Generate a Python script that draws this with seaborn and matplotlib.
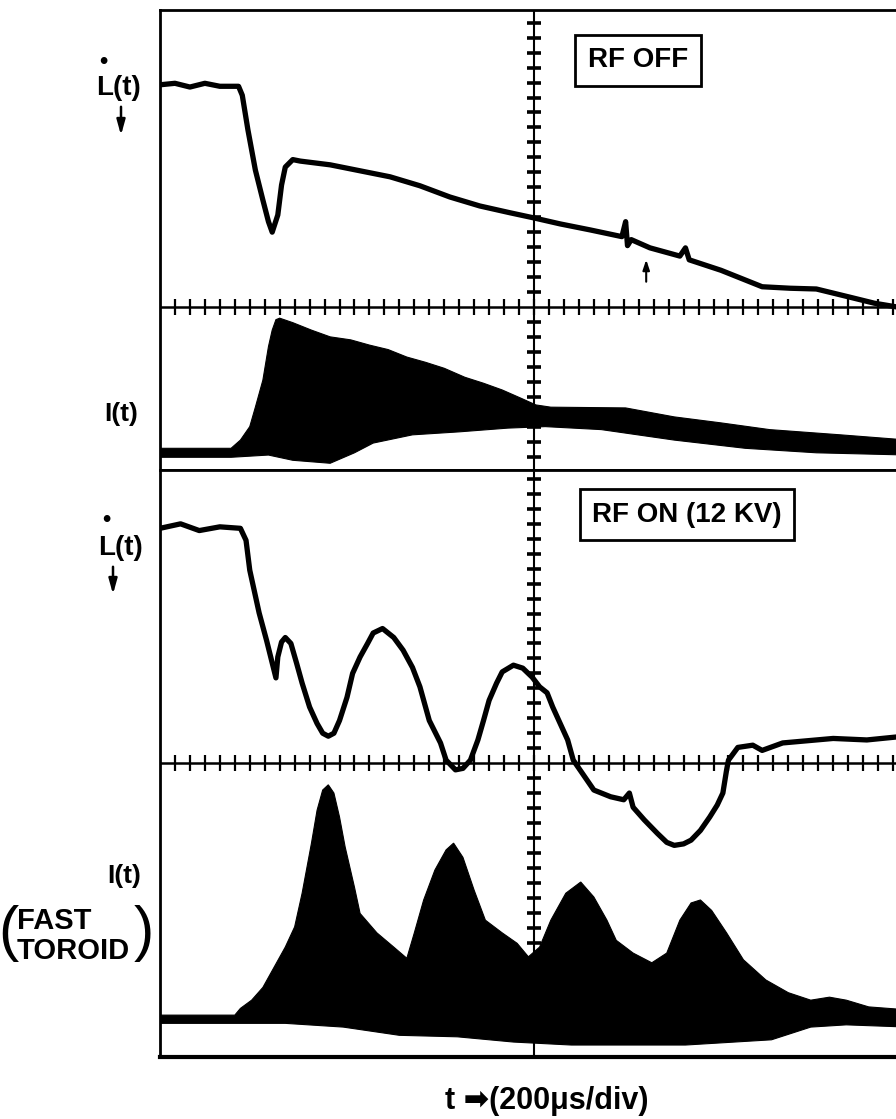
import matplotlib
matplotlib.use('Agg')
import matplotlib.pyplot as plt
import numpy as np
import seaborn as sns

# time in microseconds (200 us/div), amplitude in scope divisions

# RF OFF - L-dot trace
off_l_t = [0, 40, 80, 120, 160, 210, 220, 235, 255, 275, 290, 300, 315, 325, 335,
           355, 375, 455, 535, 615, 695, 775, 855, 935, 1000, 1070, 1150, 1235, 1245,
           1250, 1260, 1310, 1390, 1405, 1415, 1500, 1610, 1685, 1755, 1845, 1910, 1970, 2000]
off_l_v = [2.97, 2.99, 2.94, 2.99, 2.95, 2.95, 2.83, 2.37, 1.83, 1.43, 1.14, 1.00, 1.23, 1.63, 1.87,
           1.97, 1.95, 1.90, 1.82, 1.74, 1.62, 1.47, 1.35, 1.26, 1.19, 1.11, 1.03, 0.94, 1.14,
           0.82, 0.90, 0.79, 0.68, 0.79, 0.63, 0.49, 0.27, 0.25, 0.24, 0.13, 0.05, 0.0, -0.03]

# RF OFF - I(t) envelope
off_i_up_t = [0, 190, 215, 240, 255, 275, 290, 300, 310, 320, 355, 405, 455, 510, 560, 610,
              660, 710, 760, 815, 865, 915, 965, 1005, 1045, 1245, 1375, 1500, 1630, 1820, 2000]
off_i_up_v = [-1.89, -1.89, -1.78, -1.60, -1.34, -0.98, -0.53, -0.31, -0.17, -0.15, -0.21, -0.31,
              -0.40, -0.44, -0.51, -0.57, -0.67, -0.74, -0.82, -0.94, -1.02, -1.11, -1.22, -1.31,
              -1.34, -1.35, -1.47, -1.55, -1.64, -1.71, -1.78]
off_i_lo_t = [0, 190, 290, 355, 455, 520, 570, 675, 800, 930, 1030, 1180, 1375, 1565, 1755, 2000]
off_i_lo_v = [-2.01, -2.01, -1.98, -2.05, -2.09, -1.95, -1.82, -1.71, -1.67, -1.62, -1.60, -1.64,
              -1.78, -1.89, -1.95, -1.98]

# RF ON (12 KV) - L-dot trace
on_l_t = [0, 55, 105, 160, 215, 230, 240, 265, 285, 310, 315, 325, 335, 350, 365, 380, 400,
          420, 435, 450, 465, 480, 500, 515, 535, 555, 570, 595, 625, 650, 675, 695, 720, 750,
          765, 790, 810, 830, 850, 865, 880, 900, 915, 945, 970, 995, 1015, 1035, 1050, 1070,
          1090, 1105, 1160, 1205, 1240, 1255, 1265, 1295, 1330, 1355, 1375, 1400, 1420, 1445,
          1470, 1490, 1505, 1515, 1520, 1545, 1585, 1610, 1665, 1800, 1890, 1970, 2000]
on_l_v = [3.14, 3.20, 3.11, 3.16, 3.14, 2.98, 2.58, 2.01, 1.64, 1.14, 1.42, 1.62, 1.68, 1.60,
          1.34, 1.07, 0.75, 0.53, 0.40, 0.36, 0.40, 0.57, 0.88, 1.20, 1.42, 1.60, 1.74, 1.80,
          1.68, 1.51, 1.28, 1.02, 0.57, 0.27, 0.04, -0.09, -0.07, 0.04, 0.31, 0.57, 0.84, 1.07,
          1.22, 1.31, 1.27, 1.15, 1.02, 0.94, 0.75, 0.53, 0.31, 0.04, -0.36, -0.45, -0.49, -0.40,
          -0.59, -0.76, -0.94, -1.06, -1.10, -1.08, -1.03, -0.90, -0.72, -0.56, -0.40, -0.09,
          0.04, 0.21, 0.24, 0.17, 0.27, 0.33, 0.31, 0.35, 0.36]

# RF ON (12 KV) - I(t) fast toroid envelope
on_i_up_t = [0, 200, 215, 245, 275, 305, 335, 360, 380, 405, 420, 435, 450, 465, 480, 495,
             520, 535, 580, 625, 660, 680, 705, 735, 765, 785, 810, 840, 870, 915, 955, 985,
             1015, 1045, 1085, 1125, 1160, 1195, 1220, 1265, 1315, 1355, 1390, 1420, 1445,
             1475, 1515, 1560, 1620, 1680, 1740, 1790, 1835, 1895, 2000]
on_i_up_v = [-3.37, -3.37, -3.28, -3.17, -3.00, -2.73, -2.46, -2.19, -1.74, -1.07, -0.63, -0.36,
             -0.29, -0.40, -0.72, -1.12, -1.66, -2.01, -2.27, -2.46, -2.61, -2.27, -1.83, -1.43,
             -1.16, -1.07, -1.26, -1.70, -2.10, -2.27, -2.41, -2.59, -2.46, -2.10, -1.74, -1.59,
             -1.79, -2.10, -2.37, -2.54, -2.67, -2.54, -2.10, -1.87, -1.83, -1.97, -2.27, -2.63,
             -2.90, -3.07, -3.17, -3.13, -3.17, -3.26, -3.30]
on_i_lo_t = [0, 200, 335, 490, 640, 795, 945, 1100, 1405, 1635, 1740, 1835, 2000]
on_i_lo_v = [-3.48, -3.48, -3.48, -3.53, -3.64, -3.66, -3.73, -3.77, -3.77, -3.70, -3.53, -3.50, -3.53]

panel_titles = ['RF OFF', 'RF ON (12 KV)']
x_label = 't \u27a1(200\u03bcs/div)'

sns.set_style('white')
plt.rcParams['font.family'] = ['Liberation Sans', 'DejaVu Sans']
plt.rcParams['text.color'] = 'k'

W, H = 896, 1119
fig = plt.figure(figsize=(W / 100, H / 100), dpi=100)


def fx(px):
    return px / W


def fy(py):
    return 1 - py / H


# right edge of the scope screen is cut off by the scan
ax_top = fig.add_axes([fx(160), fy(470), (908 - 160) / W, (470 - 10) / H])
ax_bot = fig.add_axes([fx(160), fy(1057), (908 - 160) / W, (1057 - 470) / H])


def graticule(ax, up, down):
    ax.axhline(0, color='k', lw=1.8, zorder=1)
    ax.axvline(1000, color='k', lw=1.5, zorder=1)
    tx = np.arange(40, 2000, 40)
    ax.plot(tx, np.zeros(len(tx)), ls='none', marker='|', ms=11, mew=1.6, color='k', zorder=1)
    ty = np.r_[np.arange(0.2, up, 0.2), -np.arange(0.2, down, 0.2)]
    ax.plot(np.full(len(ty), 1000), ty, ls='none', marker='_', ms=10, mew=2.6, color='k', zorder=1)


def style(ax, ylim, bottom_lw):
    ax.set_xlim(0, 2000)
    ax.set_ylim(*ylim)
    ax.set_xticks([])
    ax.set_yticks([])
    ax.set_xlabel('')
    ax.set_ylabel('')
    for side in ['top', 'left']:
        ax.spines[side].set_linewidth(2.0)
        ax.spines[side].set_color('k')
    ax.spines['bottom'].set_linewidth(bottom_lw)
    ax.spines['bottom'].set_color('k')
    ax.spines['right'].set_visible(False)


# top panel: RF OFF
graticule(ax_top, 3.9, 2.1)
ax_top.fill(np.r_[off_i_up_t, off_i_lo_t[::-1]], np.r_[off_i_up_v, off_i_lo_v[::-1]],
            color='k', lw=0.8, zorder=2)
sns.lineplot(x=off_l_t, y=off_l_v, ax=ax_top, color='k', lw=3.8, sort=False,
             estimator=None, zorder=3)
ax_top.annotate('', xy=(1300, 0.67), xytext=(1300, 0.30),
                arrowprops=dict(arrowstyle='-|>,head_length=0.6,head_width=0.2',
                                lw=1.5, color='k'))
ax_top.text(1278, 3.30, panel_titles[0], ha='center', va='center', fontsize=20,
            fontweight='bold', color='k',
            bbox=dict(boxstyle='square,pad=0.45', fc='white', ec='k', lw=2))
style(ax_top, (-2.18, 3.97), 2.0)

# bottom panel: RF ON
graticule(ax_bot, 3.9, 2.7)
ax_bot.fill(np.r_[on_i_up_t, on_i_lo_t[::-1]], np.r_[on_i_up_v, on_i_lo_v[::-1]],
            color='k', lw=0.8, zorder=2)
sns.lineplot(x=on_l_t, y=on_l_v, ax=ax_bot, color='k', lw=3.8, sort=False,
             estimator=None, zorder=3)
ax_bot.text(1409, 3.32, panel_titles[1], ha='center', va='center', fontsize=20,
            fontweight='bold', color='k',
            bbox=dict(boxstyle='square,pad=0.45', fc='white', ec='k', lw=2))
style(ax_bot, (-3.93, 3.92), 3.0)

# left side labels
lab = dict(ha='center', va='center', fontweight='bold', color='k')
arrow = dict(arrowstyle='-|>,head_length=0.9,head_width=0.25', lw=1.8, color='k')

fig.text(fx(118), fy(88), 'L(t)', fontsize=20, **lab)
fig.text(fx(103), fy(61), '\u2022', fontsize=17, **lab)
fig.add_artist(plt.Annotation('', xy=(fx(121), fy(138)), xytext=(fx(121), fy(104)),
                              xycoords='figure fraction', arrowprops=arrow))
fig.text(fx(121), fy(414), 'I(t)', fontsize=19, **lab)

fig.text(fx(120), fy(548), 'L(t)', fontsize=20, **lab)
fig.text(fx(106), fy(520), '\u2022', fontsize=17, **lab)
fig.add_artist(plt.Annotation('', xy=(fx(113), fy(597)), xytext=(fx(113), fy(564)),
                              xycoords='figure fraction', arrowprops=arrow))
fig.text(fx(124), fy(876), 'I(t)', fontsize=19, **lab)
fig.text(fx(17), fy(921), 'FAST', fontsize=21, ha='left', va='center', fontweight='bold')
fig.text(fx(17), fy(951), 'TOROID', fontsize=21, ha='left', va='center', fontweight='bold')
fig.text(fx(8), fy(934), '(', fontsize=44, ha='center', va='center', fontweight='light')
fig.text(fx(144), fy(934), ')', fontsize=44, ha='center', va='center', fontweight='light')

fig.text(fx(547), fy(1101), x_label, fontsize=22, **lab)

plt.savefig('out.png', dpi=100)
